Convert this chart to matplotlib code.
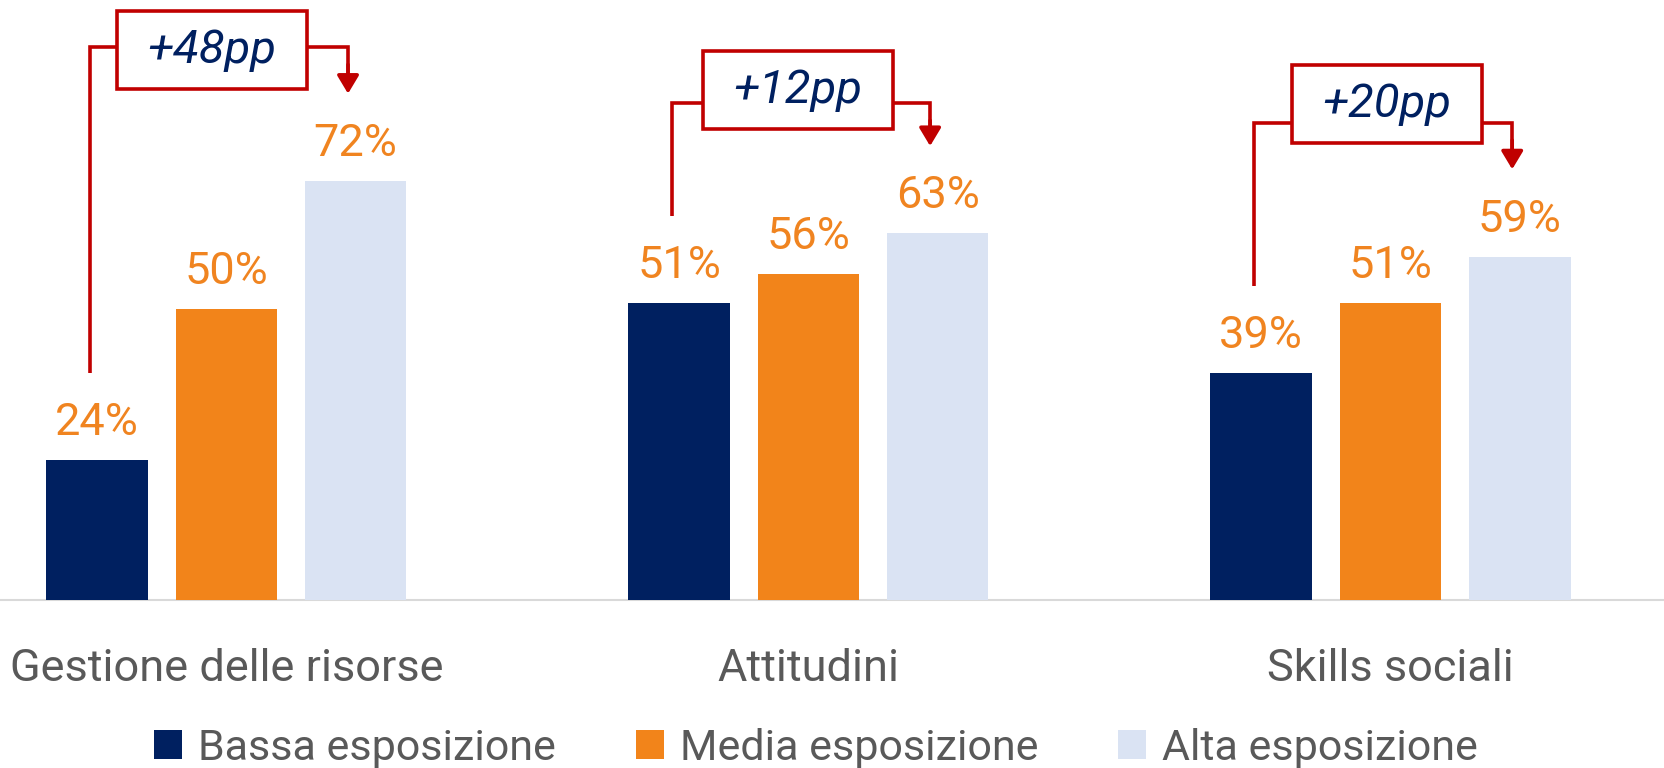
import numpy as np
import matplotlib.pyplot as plt
from matplotlib.patches import Rectangle

plt.rcParams['font.family'] = ['Roboto', 'DejaVu Sans']

categorie = ['Gestione delle risorse', 'Attitudini', 'Skills sociali']
serie = ['Bassa esposizione', 'Media esposizione', 'Alta esposizione']
bassa = [24, 51, 39]
media = [50, 56, 51]
alta = [72, 63, 59]

colori = ['#002060', '#F2841A', '#DAE3F3']
rosso = '#C00000'
grigio = '#595959'
arancio = '#F08420'

# posizione delle staffe rosse (in punti percentuali)
y_staffa = [95.0, 85.4, 82.0]
y_box = [87.8, 80.9, 78.5]
x_box = [-0.025, -0.018, -0.006]
alt_box = 13.4
larg_box = 0.327
stacco = 15

fig = plt.figure(figsize=(16.65, 7.68), dpi=100)
ax = fig.add_axes([0, 0, 1, 1])
x = np.arange(len(categorie))
passo = 0.2221
larg = 0.1745

for k, (vals, nome) in enumerate(zip([bassa, media, alta], serie)):
    pos = x + (k - 1) * passo
    ax.bar(pos, vals, larg, color=colori[k], label=nome, zorder=2)
    for px, v in zip(pos, vals):
        ax.annotate(f'{v}%', (px, v), xytext=(0, 18), textcoords='offset points',
                    ha='center', va='baseline', fontsize=32.5, color=arancio)

ax.axhline(0, color='#D9D9D9', lw=1.5, zorder=1)

for i, cat in enumerate(categorie):
    ax.text(i, -13.9, cat, ha='center', va='baseline', fontsize=32.5,
            color=grigio)

# staffe con la differenza alta - bassa
for i in range(len(categorie)):
    lx = i - passo - 0.012
    rx = i + passo - 0.013
    bx0 = i + x_box[i] - larg_box / 2
    bx1 = i + x_box[i] + larg_box / 2
    yb = y_staffa[i]
    ax.plot([lx, lx, bx0], [bassa[i] + stacco, yb, yb], color=rosso, lw=2.6,
            solid_joinstyle='miter', solid_capstyle='butt', zorder=3)
    ax.plot([bx1, rx, rx], [yb, yb, alta[i] + stacco + 2], color=rosso, lw=2.6,
            solid_joinstyle='miter', solid_capstyle='butt', zorder=3)
    ax.annotate('', xy=(rx, alta[i] + stacco), xytext=(rx, yb - 3),
                arrowprops=dict(arrowstyle='-|>,head_length=1.0,head_width=0.6',
                                mutation_scale=11, color=rosso, lw=2.6,
                                shrinkA=0, shrinkB=0), zorder=3)
    ax.add_patch(Rectangle((bx0, y_box[i]), larg_box, alt_box, facecolor='white',
                           edgecolor=rosso, lw=2.6, zorder=4))
    ax.text(i + x_box[i], y_box[i] + alt_box / 2, f'+{alta[i] - bassa[i]}pp',
            ha='center', va='center', fontsize=34, style='italic',
            color='#002060', zorder=5)

ax.legend(loc='center', bbox_to_anchor=(0.49, 0.026), ncol=3, frameon=False,
          fontsize=31, handlelength=0.65, handleheight=0.65, handletextpad=0.37,
          columnspacing=1.85, borderpad=0, labelcolor=grigio)

ax.set_xlim(-0.3888, 2.4716)
ax.set_ylim(-28.87, 103.09)
ax.axis('off')

fig.savefig('out.png', dpi=100)
